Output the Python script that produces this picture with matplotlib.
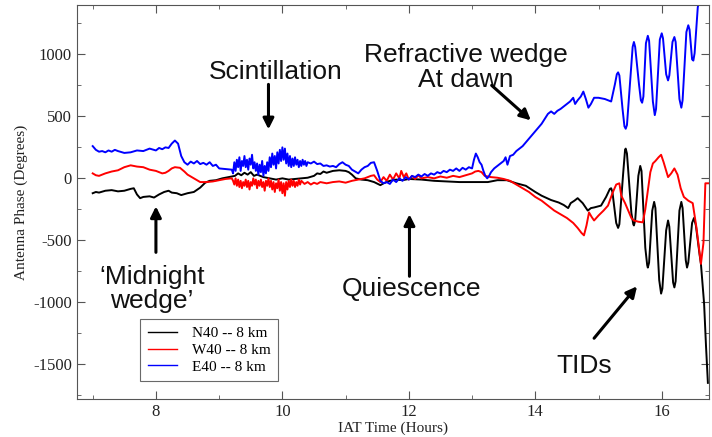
import matplotlib
matplotlib.use("Agg")
import matplotlib.pyplot as plt
from matplotlib.ticker import MultipleLocator

plt.rcParams["axes.unicode_minus"] = False

# E40 (blue)
e40_t = [7.00, 7.05, 7.10, 7.15, 7.20, 7.25, 7.30, 7.35, 7.40, 7.50, 7.60, 7.70, 7.80, 7.90,
         8.00, 8.05, 8.10, 8.15, 8.20, 8.25, 8.30, 8.35, 8.40, 8.45, 8.50, 8.55, 8.60, 8.65,
         8.70, 8.75, 8.80, 8.85, 8.90, 8.95, 9.00, 9.10, 9.20,
         9.22, 9.24, 9.26, 9.28, 9.30, 9.32, 9.34, 9.36, 9.38, 9.40, 9.42, 9.44, 9.46, 9.48,
         9.50, 9.52, 9.54, 9.56, 9.58, 9.60, 9.62, 9.64, 9.66, 9.68, 9.70, 9.72, 9.74, 9.76,
         9.78, 9.80, 9.82, 9.84, 9.86, 9.88, 9.90, 9.92, 9.94, 9.96, 9.98, 10.00, 10.02, 10.04,
         10.06, 10.08, 10.10, 10.12, 10.14, 10.16, 10.18, 10.20, 10.22, 10.24, 10.26, 10.28,
         10.30, 10.32, 10.34, 10.36, 10.38, 10.40, 10.45, 10.50, 10.55, 10.60, 10.65, 10.70,
         10.75, 10.80, 10.85, 10.90, 10.95, 11.00, 11.05, 11.10, 11.15, 11.20, 11.25, 11.30,
         11.35, 11.40, 11.45, 11.50, 11.55, 11.60, 11.65, 11.70, 11.75, 11.80, 11.85, 11.90,
         11.95, 12.00, 12.05, 12.10, 12.15, 12.20, 12.25, 12.30, 12.35, 12.40, 12.45, 12.50,
         12.55, 12.60, 12.65, 12.70, 12.75, 12.80, 12.85, 12.90, 12.95, 13.00, 13.03, 13.06,
         13.09, 13.12, 13.15, 13.18, 13.21, 13.24, 13.27, 13.30, 13.35, 13.40, 13.45, 13.50,
         13.53, 13.56, 13.60, 13.65, 13.70, 13.75, 13.80, 13.85, 13.90, 13.95, 14.00, 14.05,
         14.10, 14.15, 14.20, 14.25, 14.30, 14.35, 14.40, 14.45, 14.50, 14.55, 14.60, 14.63,
         14.67, 14.72, 14.76, 14.80, 14.84, 14.88, 14.93, 15.00, 15.10, 15.20,
         15.26, 15.29, 15.31, 15.33, 15.38, 15.41, 15.43, 15.45, 15.51, 15.54, 15.56, 15.58,
         15.64, 15.67, 15.69, 15.71, 15.75, 15.78, 15.80, 15.86, 15.89, 15.91, 15.97, 16.00,
         16.02, 16.07, 16.10, 16.12, 16.17, 16.20, 16.22, 16.28, 16.31, 16.33, 16.39, 16.42,
         16.44, 16.48, 16.50, 16.52, 16.57, 16.62]
e40_phase = [260, 230, 215, 220, 210, 225, 215, 230, 220, 205, 210, 225, 220, 240,
             225, 245, 235, 250, 245, 280, 305, 280, 180, 130, 110, 135, 120, 140,
             115, 125, 110, 130, 100, 110, 80, 75, 70,
             40, 130, 60, 150, 90, 170, 60, 140, 100, 180, 90, 150, 70, 160,
             110, 190, 80, 130, 60, 120, 30, 110, 50, 140, 20, 100, 40, 130,
             60, 170, 90, 200, 110, 180, 80, 210, 120, 230, 140, 250, 150, 240,
             120, 200, 100, 180, 90, 160, 100, 170, 110, 150, 90, 140,
             100, 150, 110, 140, 100, 130, 120, 135, 115, 120, 100, 105,
             95, 100, 90, 115, 130, 110, 100, 70, 55, 40, 70, 90,
             100, 125, 130, 60, -20, -40, -30, -45, -10, -30, 0, -20,
             10, -10, 20, 10, 30, 15, 35, 20, 40, 30, 50, 40,
             60, 50, 70, 60, 80, 60, 85, 70, 90, 80, 150, 200,
             170, 130, 110, 60, 20, 0, 20, 50, 80, 100, 120, 140,
             170, 110, 180, 190, 220, 240, 260, 290, 320, 350, 380, 410,
             440, 480, 520, 540, 520, 545, 560, 580, 600, 620, 650, 600,
             630, 660, 700, 640, 570, 600, 650, 650, 640, 620,
             760, 840, 855, 830, 560, 420, 400, 430, 850, 1060, 1100, 1060,
             760, 630, 610, 660, 1090, 1150, 1110, 620, 510, 560, 1120, 1170,
             1130, 840, 790, 830, 1100, 1140, 1100, 640, 570, 630, 1180, 1235,
             1200, 960, 950, 1010, 1380, 1500]

# W40 (red)
w40_t = [7.00, 7.05, 7.10, 7.15, 7.20, 7.30, 7.40, 7.50, 7.60, 7.70, 7.80, 7.90, 8.00, 8.10,
         8.15, 8.20, 8.25, 8.30, 8.38, 8.45, 8.50, 8.60, 8.70, 8.80, 8.90, 9.00, 9.10, 9.20,
         9.22, 9.24, 9.26, 9.28, 9.30, 9.32, 9.34, 9.36, 9.38, 9.40, 9.42, 9.44, 9.46, 9.48,
         9.50, 9.52, 9.54, 9.56, 9.58, 9.60, 9.62, 9.64, 9.66, 9.68, 9.70, 9.72, 9.74, 9.76,
         9.78, 9.80, 9.82, 9.84, 9.86, 9.88, 9.90, 9.92, 9.94, 9.96, 9.98, 10.00, 10.02, 10.04,
         10.06, 10.08, 10.10, 10.12, 10.14, 10.16, 10.18, 10.20, 10.22, 10.24, 10.26, 10.28,
         10.30, 10.35, 10.40, 10.45, 10.50, 10.55, 10.60, 10.70, 10.80, 10.90, 11.00, 11.10,
         11.20, 11.30, 11.40, 11.45, 11.50, 11.55, 11.60, 11.65, 11.70, 11.75, 11.80, 11.85,
         11.88, 11.92, 11.96, 12.00, 12.05, 12.10, 12.15, 12.20, 12.30, 12.40, 12.50, 12.60,
         12.70, 12.80, 12.90, 13.00, 13.05, 13.10, 13.15, 13.20, 13.30, 13.40, 13.50, 13.60,
         13.70, 13.80, 13.90, 14.00, 14.10, 14.20, 14.30, 14.40, 14.50, 14.60, 14.67, 14.73,
         14.77, 14.81, 14.85, 14.89, 14.93, 15.00, 15.08, 15.15, 15.22, 15.28, 15.33, 15.36,
         15.42, 15.47, 15.52, 15.56, 15.63, 15.70, 15.74, 15.78, 15.82, 15.86, 15.90, 15.95,
         15.99, 16.03, 16.07, 16.10, 16.15, 16.20, 16.25, 16.30, 16.35, 16.42, 16.49, 16.55,
         16.62, 16.66, 16.69, 16.75]
w40_phase = [40, 25, 20, 30, 40, 55, 65, 90, 105, 95, 90, 70, 60, 40,
             45, 60, 80, 90, 85, 55, 30, 0, -30, -30, -25, -15, -5, 0,
             -20, -50, 0, -60, -10, -70, -20, -80, -30, -60, -10, -70, -20, -90,
             -30, -60, 0, -50, -10, -80, -20, -60, -10, -70, -30, -100, -20, -60,
             0, -70, -20, -90, -30, -110, -40, -80, -10, -100, -30, -120, -40, -140,
             -30, -90, -20, -70, -10, -60, -20, -70, -30, -60, -10, -50,
             -20, -45, -30, -50, -35, -45, -30, -40, -30, -25, -35, -20,
             -10, 0, 20, 25, -10, -30, 10, -20, 30, -10, 40, 0,
             60, 10, 40, -10, 20, -5, 25, 0, 10, 0, 15, 5,
             20, 10, 25, 40, 55, 60, 50, 20, 10, 5, -5, -20,
             -50, -80, -110, -150, -180, -220, -260, -290, -320, -360, -400, -440,
             -460, -380, -275, -310, -340, -300, -260, -220, -120, -50, -40, -140,
             -200, -260, -320, -340, -350, -355, -250, -100, 50, 120, 140, 170,
             190, 130, 60, 10, 40, 80, 30, -80, -150, -180, -200, -400,
             -690, -520, -40, -40]

# N40 (black)
n40_t = [7.00, 7.05, 7.10, 7.20, 7.30, 7.40, 7.50, 7.60, 7.65, 7.70, 7.75, 7.80, 7.90, 7.97,
         8.05, 8.13, 8.20, 8.25, 8.33, 8.40, 8.50, 8.60, 8.70, 8.78, 8.85, 8.95, 9.05, 9.15,
         9.25, 9.30, 9.35, 9.40, 9.45, 9.50, 9.55, 9.60, 9.70, 9.80, 9.90, 10.00, 10.10, 10.20,
         10.30, 10.40, 10.50, 10.55, 10.60, 10.65, 10.70, 10.80, 10.90, 11.00, 11.05, 11.10,
         11.16, 11.25, 11.35, 11.45, 11.55, 11.60, 11.70, 11.80, 11.90, 12.00, 12.20, 12.40,
         12.60, 12.80, 13.00, 13.25, 13.40, 13.55, 13.70, 13.85, 14.00, 14.10, 14.25, 14.37,
         14.45, 14.52, 14.56, 14.62, 14.67, 14.75, 14.83, 14.88, 14.93, 15.04, 15.12, 15.18,
         15.20, 15.22, 15.28, 15.31, 15.33, 15.39, 15.42, 15.43, 15.45, 15.52, 15.55, 15.56,
         15.58, 15.63, 15.66, 15.68, 15.74, 15.77, 15.78, 15.80, 15.85, 15.88, 15.90, 15.96,
         15.99, 16.01, 16.07, 16.10, 16.12, 16.18, 16.20, 16.22, 16.28, 16.31, 16.33, 16.38,
         16.40, 16.42, 16.48, 16.51, 16.54, 16.60, 16.62, 16.67, 16.70, 16.73]
n40_phase = [-120, -110, -115, -100, -95, -105, -100, -85, -80, -130, -160, -150, -145, -155,
             -130, -110, -100, -115, -120, -135, -120, -110, -75, -35, -20, -15, 0, 10,
             20, 40, 25, 45, 30, 50, 20, 30, 10, 0, -10, 0, -10, -5,
             0, 5, 20, 40, 35, 55, 45, 60, 65, 60, 50, 30,
             0, -10, -15, -30, -55, -40, -20, -10, -15, -5, -10, -20,
             -25, -30, -30, -30, -15, -15, -40, -60, -110, -140, -175, -195,
             -215, -240, -200, -180, -160, -200, -260, -240, -235, -220, -150, -85,
             -80, -110, -360, -400, -370, 40, 230, 240, 200, -280, -370, -380,
             -340, 20, 100, 60, -560, -700, -720, -680, -260, -190, -240, -820,
             -930, -890, -420, -340, -390, -840, -880, -830, -260, -190, -240, -660,
             -720, -680, -360, -320, -380, -620, -690, -1010, -1350, -1650]

x_ticks = [8, 10, 12, 14, 16]
y_ticks = [-1500, -1000, -500, 0, 500, 1000]

serif = ["Liberation Serif", "DejaVu Serif"]
sans = ["Liberation Sans", "DejaVu Sans"]


def main():
    fig = plt.figure(figsize=(7.12, 4.37), dpi=100)
    ax = fig.add_axes([0.108, 0.087, 0.888, 0.902])

    ax.plot(n40_t, n40_phase, color="black", lw=1.4, label="N40 -- 8 km")
    ax.plot(w40_t, w40_phase, color="red", lw=1.4, label="W40 -- 8 km")
    ax.plot(e40_t, e40_phase, color="blue", lw=1.4, label="E40 -- 8 km")

    ax.set_xlim(6.75, 16.75)
    ax.set_ylim(-1780, 1400)
    ax.set_xticks(x_ticks)
    ax.set_yticks(y_ticks)
    ax.xaxis.set_minor_locator(MultipleLocator(1))
    ax.yaxis.set_minor_locator(MultipleLocator(250))
    ax.tick_params(which="both", direction="in", top=True, right=True, color="#555555")
    ax.tick_params(which="major", length=6, width=0.8, labelsize=12, labelcolor="#222222")
    ax.tick_params(which="minor", length=3, width=0.6)
    for lab in ax.get_xticklabels() + ax.get_yticklabels():
        lab.set_family(serif)
    for s in ax.spines.values():
        s.set_color("#555555")
        s.set_linewidth(0.8)

    ax.set_xlabel("IAT Time (Hours)", family=serif, fontsize=11, color="#222222", labelpad=1)
    ax.set_ylabel("Antenna Phase (Degrees)", family=serif, fontsize=11, color="#222222", labelpad=4)

    leg = ax.legend(loc="lower left", bbox_to_anchor=(0.1, 0.045), prop={"family": serif, "size": 11},
                    frameon=True, fancybox=False, edgecolor="#444444", handlelength=1.9,
                    labelspacing=0.2, borderpad=0.5, handletextpad=1.0, borderaxespad=0)
    leg.get_frame().set_linewidth(0.8)
    for ln in leg.get_lines():
        ln.set_linewidth(1.0)

    # annotations
    arrow = dict(arrowstyle="-|>", lw=2.2, color="black", mutation_scale=16, shrinkA=0, shrinkB=0)
    tfont = dict(family=sans, fontsize=19, ha="center", va="center", color="#111111")

    ax.text(9.89, 855, "Scintillation", **tfont)
    ax.annotate("", xy=(9.78, 395), xytext=(9.78, 758), arrowprops=arrow)

    ax.text(12.90, 895, "Refractive wedge\nAt dawn", linespacing=1.05, **tfont)
    ax.annotate("", xy=(13.93, 468), xytext=(13.31, 750), arrowprops=arrow)

    ax.text(7.94, -895, "\u2018Midnight\nwedge\u2019", linespacing=1.0, **tfont)
    ax.annotate("", xy=(8.0, -226), xytext=(8.0, -597), arrowprops=arrow)

    ax.text(12.04, -895, "Quiescence", **tfont)
    ax.annotate("", xy=(12.01, -290), xytext=(12.01, -790), arrowprops=arrow)

    ax.text(14.77, -1516, "TIDs", **tfont)
    ax.annotate("", xy=(15.61, -871), xytext=(14.93, -1290), arrowprops=arrow)

    fig.savefig("out.png", dpi=100)


if __name__ == "__main__":
    main()
